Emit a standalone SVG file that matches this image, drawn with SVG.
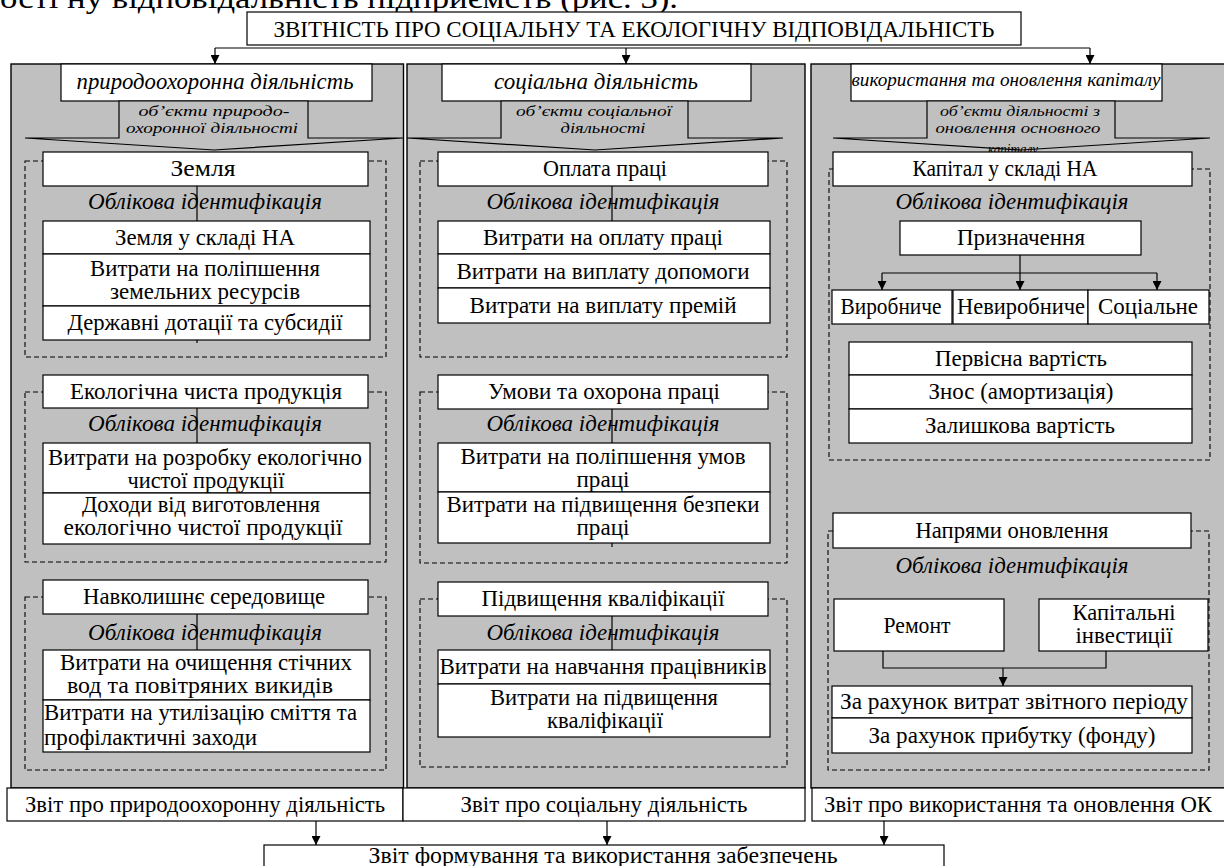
<svg xmlns="http://www.w3.org/2000/svg" width="1224" height="866" viewBox="0 0 1224 866" font-family="'Liberation Serif','DejaVu Serif',serif">
<defs>
<marker id="ah" viewBox="0 0 10 10" refX="10" refY="5" markerWidth="9" markerHeight="9" markerUnits="userSpaceOnUse" orient="auto"><path d="M0,0 L10,5 L0,10 z" fill="#000"/></marker>
<style>
.col{fill:#c0c0c0;stroke:#000;stroke-width:1.4}
.box{fill:#fff;stroke:#000;stroke-width:1.2}
.tab{fill:#c0c0c0;stroke:#000;stroke-width:1.2}
.dash{fill:none;stroke:#000;stroke-width:1.1;stroke-dasharray:5 3}
.ln{fill:none;stroke:#000;stroke-width:1.2}
.ar{fill:none;stroke:#000;stroke-width:1.2;marker-end:url(#ah)}
text{font-family:'Liberation Serif','DejaVu Serif',serif;font-size:23px;fill:#000;text-anchor:middle}
.i{font-style:italic}
.s{font-size:15.5px}
.h{font-size:19px}
.l{text-anchor:start}
</style>
</defs>
<rect width="1224" height="866" fill="#fff"/>
<text class="l" x="0" y="8" style="font-size:29px" textLength="678" lengthAdjust="spacingAndGlyphs">ості ну відповідальність підприємств (рис. 3).</text>

<g id="title">
<rect class="box" x="247" y="12" width="774" height="33"/>
<text x="634" y="37" textLength="721" lengthAdjust="spacingAndGlyphs">ЗВІТНІСТЬ ПРО СОЦІАЛЬНУ ТА ЕКОЛОГІЧНУ ВІДПОВІДАЛЬНІСТЬ</text>
</g>

<g id="columns">
<rect class="col" x="11" y="64" width="392.5" height="724"/>
<rect class="col" x="407" y="64" width="398" height="724"/>
<rect class="col" x="811" y="64" width="420" height="724"/>
</g>

<g id="hdr-left">
<rect class="box" x="61" y="64" width="311" height="37"/>
<text class="i" x="215" y="89" textLength="277" lengthAdjust="spacingAndGlyphs">природоохоронна діяльність</text>
</g>
<g id="tab-left">
<polygon class="tab" points="119,101 308,101 308,138 403,138 214,150 25,138 119,138"/>
<text class="i s" x="214" y="116" textLength="151" lengthAdjust="spacingAndGlyphs">об’єкти природо-</text>
<text class="i s" x="212" y="133" textLength="172" lengthAdjust="spacingAndGlyphs">охоронної діяльності</text>
</g>

<g id="grp-zemlia">
<rect class="dash" x="25" y="161" width="361" height="196"/>
<line class="ln" x1="197" y1="186" x2="197" y2="343"/>
<rect class="box" x="43" y="152" width="325" height="34"/>
<text x="203" y="176" textLength="65" lengthAdjust="spacingAndGlyphs">Земля</text>
<text class="i" x="205" y="209" textLength="234" lengthAdjust="spacingAndGlyphs">Облікова ідентифікація</text>
<rect class="box" x="43" y="221" width="327" height="33"/>
<text x="205" y="245" textLength="180" lengthAdjust="spacingAndGlyphs">Земля у складі НА</text>
<rect class="box" x="43" y="254" width="327" height="52"/>
<text x="205" y="276" textLength="230" lengthAdjust="spacingAndGlyphs">Витрати на поліпшення</text>
<text x="205" y="299" textLength="190" lengthAdjust="spacingAndGlyphs">земельних ресурсів</text>
<rect class="box" x="43" y="306" width="327" height="34"/>
<text x="205" y="330" textLength="275" lengthAdjust="spacingAndGlyphs">Державні дотації та субсидії</text>
</g>

<g id="grp-eko">
<rect class="dash" x="25" y="392" width="361" height="170"/>
<line class="ln" x1="197" y1="408" x2="197" y2="443"/>
<rect class="box" x="43" y="375" width="325" height="33"/>
<text x="206" y="399" textLength="272" lengthAdjust="spacingAndGlyphs">Екологічна чиста продукція</text>
<text class="i" x="205" y="431" textLength="234" lengthAdjust="spacingAndGlyphs">Облікова ідентифікація</text>
<rect class="box" x="43" y="443" width="327" height="50"/>
<text x="205" y="465" textLength="314" lengthAdjust="spacingAndGlyphs">Витрати на розробку екологічно</text>
<text x="206" y="488" textLength="157" lengthAdjust="spacingAndGlyphs">чистої продукції</text>
<rect class="box" x="43" y="493" width="327" height="51"/>
<text x="201" y="512" textLength="238" lengthAdjust="spacingAndGlyphs">Доходи від виготовлення</text>
<text x="203" y="535" textLength="279" lengthAdjust="spacingAndGlyphs">екологічно чистої продукції</text>
</g>

<g id="grp-navk">
<rect class="dash" x="25" y="597" width="361" height="173"/>
<line class="ln" x1="197" y1="614" x2="197" y2="650"/>
<rect class="box" x="43" y="580" width="325" height="34"/>
<text x="204" y="604" textLength="242" lengthAdjust="spacingAndGlyphs">Навколишнє середовище</text>
<text class="i" x="205" y="640" textLength="234" lengthAdjust="spacingAndGlyphs">Облікова ідентифікація</text>
<rect class="box" x="43" y="650" width="327" height="50"/>
<text x="206" y="670" textLength="292" lengthAdjust="spacingAndGlyphs">Витрати на очищення стічних</text>
<text x="200" y="693" textLength="266" lengthAdjust="spacingAndGlyphs">вод та повітряних викидів</text>
<rect class="box" x="43" y="700" width="327" height="52"/>
<text class="l" x="44" y="720" textLength="313" lengthAdjust="spacingAndGlyphs">Витрати на утилізацію сміття та</text>
<text class="l" x="44" y="745" textLength="213" lengthAdjust="spacingAndGlyphs">профілактичні заходи</text>
</g>

<g id="hdr-mid">
<rect class="box" x="442" y="64" width="309" height="37"/>
<text class="i" x="596" y="89" textLength="204" lengthAdjust="spacingAndGlyphs">соціальна діяльність</text>
</g>
<g id="tab-mid">
<polygon class="tab" points="501,101 688,101 688,138 783,138 595,150 407,138 501,138"/>
<text class="i s" x="594" y="116" textLength="156" lengthAdjust="spacingAndGlyphs">об’єкти соціальної</text>
<text class="i s" x="603" y="133" textLength="85" lengthAdjust="spacingAndGlyphs">діяльності</text>
</g>

<g id="grp-oplata">
<rect class="dash" x="420" y="161" width="367" height="196"/>
<line class="ln" x1="612" y1="186" x2="612" y2="221"/>
<rect class="box" x="438" y="152" width="330" height="34"/>
<text x="605" y="176" textLength="124" lengthAdjust="spacingAndGlyphs">Оплата праці</text>
<text class="i" x="603" y="209" textLength="233" lengthAdjust="spacingAndGlyphs">Облікова ідентифікація</text>
<rect class="box" x="438" y="221" width="332" height="33"/>
<text x="603" y="245" textLength="240" lengthAdjust="spacingAndGlyphs">Витрати на оплату праці</text>
<rect class="box" x="438" y="254" width="332" height="34"/>
<text x="603" y="279" textLength="293" lengthAdjust="spacingAndGlyphs">Витрати на виплату допомоги</text>
<rect class="box" x="438" y="288" width="332" height="35"/>
<text x="603" y="313" textLength="267" lengthAdjust="spacingAndGlyphs">Витрати на виплату премій</text>
</g>

<g id="grp-umovy">
<rect class="dash" x="420" y="392" width="367" height="171"/>
<line class="ln" x1="612" y1="409" x2="612" y2="547"/>
<rect class="box" x="438" y="375" width="330" height="34"/>
<text x="604" y="399" textLength="232" lengthAdjust="spacingAndGlyphs">Умови та охорона праці</text>
<text class="i" x="603" y="431" textLength="233" lengthAdjust="spacingAndGlyphs">Облікова ідентифікація</text>
<rect class="box" x="438" y="443" width="332" height="49"/>
<text x="603" y="464" textLength="285" lengthAdjust="spacingAndGlyphs">Витрати на поліпшення умов</text>
<text x="603" y="487" textLength="53" lengthAdjust="spacingAndGlyphs">праці</text>
<rect class="box" x="438" y="492" width="332" height="51"/>
<text x="603" y="512" textLength="313" lengthAdjust="spacingAndGlyphs">Витрати на підвищення безпеки</text>
<text x="603" y="535" textLength="53" lengthAdjust="spacingAndGlyphs">праці</text>
</g>

<g id="grp-kvalif">
<rect class="dash" x="420" y="599" width="367" height="168"/>
<line class="ln" x1="612" y1="616" x2="612" y2="650"/>
<rect class="box" x="438" y="582" width="330" height="34"/>
<text x="603" y="606" textLength="243" lengthAdjust="spacingAndGlyphs">Підвищення кваліфікації</text>
<text class="i" x="603" y="640" textLength="233" lengthAdjust="spacingAndGlyphs">Облікова ідентифікація</text>
<rect class="box" x="438" y="650" width="332" height="34"/>
<text x="603" y="674" textLength="327" lengthAdjust="spacingAndGlyphs">Витрати на навчання працівників</text>
<rect class="box" x="438" y="684" width="332" height="53"/>
<text x="604" y="705" textLength="228" lengthAdjust="spacingAndGlyphs">Витрати на підвищення</text>
<text x="605" y="728" textLength="116" lengthAdjust="spacingAndGlyphs">кваліфікації</text>
</g>

<g id="hdr-right">
<rect class="box" x="851" y="64" width="311" height="37"/>
<text class="i h" x="1006" y="86" textLength="309" lengthAdjust="spacingAndGlyphs">використання та оновлення капіталу</text>
</g>
<g id="tab-right">
<polygon class="tab" points="927,101 1115,101 1115,138 1210,138 1021,150 833,138 927,138"/>
<text class="i s" x="1020" y="116" textLength="160" lengthAdjust="spacingAndGlyphs">об’єкти діяльності з</text>
<text class="i s" x="1018" y="133" textLength="165" lengthAdjust="spacingAndGlyphs">оновлення основного</text>
<text class="i s" x="1013" y="154" textLength="50" lengthAdjust="spacingAndGlyphs">капіталу</text>
</g>

<g id="grp-kapital">
<rect class="dash" x="829" y="169" width="381" height="291"/>
<rect class="box" x="833" y="152" width="359" height="34"/>
<text x="1005" y="176" textLength="185" lengthAdjust="spacingAndGlyphs">Капітал у складі НА</text>
<text class="i" x="1012" y="209" textLength="233" lengthAdjust="spacingAndGlyphs">Облікова ідентифікація</text>
<rect class="box" x="900" y="221" width="241" height="34"/>
<text x="1021" y="245" textLength="128" lengthAdjust="spacingAndGlyphs">Призначення</text>
<rect class="box" x="832" y="290" width="120" height="34"/>
<text x="891" y="314" textLength="101" lengthAdjust="spacingAndGlyphs">Виробниче</text>
<rect class="box" x="953" y="290" width="135" height="34"/>
<text x="1021" y="314" textLength="128" lengthAdjust="spacingAndGlyphs">Невиробниче</text>
<rect class="box" x="1088" y="290" width="121" height="34"/>
<text x="1148" y="314" textLength="100" lengthAdjust="spacingAndGlyphs">Соціальне</text>
<rect class="box" x="849" y="342" width="343" height="33"/>
<text x="1021" y="366" textLength="172" lengthAdjust="spacingAndGlyphs">Первісна вартість</text>
<rect class="box" x="849" y="375" width="343" height="34"/>
<text x="1021" y="399" textLength="185" lengthAdjust="spacingAndGlyphs">Знос (амортизація)</text>
<rect class="box" x="849" y="409" width="343" height="34"/>
<text x="1020" y="433" textLength="190" lengthAdjust="spacingAndGlyphs">Залишкова вартість</text>
</g>

<g id="grp-napriamy">
<rect class="dash" x="828" y="531" width="381" height="239"/>
<rect class="box" x="833" y="513" width="358" height="35"/>
<text x="1012" y="538" textLength="193" lengthAdjust="spacingAndGlyphs">Напрями оновлення</text>
<text class="i" x="1012" y="573" textLength="233" lengthAdjust="spacingAndGlyphs">Облікова ідентифікація</text>
<rect class="box" x="834" y="599" width="170" height="52"/>
<text x="917" y="633" textLength="67" lengthAdjust="spacingAndGlyphs">Ремонт</text>
<rect class="box" x="1039" y="599" width="169" height="52"/>
<text x="1124" y="620" textLength="103" lengthAdjust="spacingAndGlyphs">Капітальні</text>
<text x="1124" y="643" textLength="97" lengthAdjust="spacingAndGlyphs">інвестиції</text>
<rect class="box" x="832" y="686" width="360" height="32"/>
<text x="1014" y="709" textLength="348" lengthAdjust="spacingAndGlyphs">За рахунок витрат звітного періоду</text>
<rect class="box" x="832" y="718" width="360" height="35"/>
<text x="1012" y="743" textLength="287" lengthAdjust="spacingAndGlyphs">За рахунок прибутку (фонду)</text>
</g>

<g id="rep-left">
<rect class="box" x="7" y="788" width="396" height="33"/>
<text x="205" y="812" textLength="360" lengthAdjust="spacingAndGlyphs">Звіт про природоохоронну діяльність</text>
</g>
<g id="rep-mid">
<rect class="box" x="403" y="788" width="402" height="33"/>
<text x="604" y="812" textLength="287" lengthAdjust="spacingAndGlyphs">Звіт про соціальну діяльність</text>
</g>
<g id="rep-right">
<rect class="box" x="812" y="788" width="420" height="33"/>
<text x="1018" y="812" textLength="388" lengthAdjust="spacingAndGlyphs">Звіт про використання та оновлення ОК</text>
</g>
<g id="final">
<rect class="box" x="264" y="845" width="680" height="30"/>
<text x="603" y="863" textLength="469" lengthAdjust="spacingAndGlyphs">Звіт формування та використання забезпечень</text>
</g>

<g id="connectors">
<line class="ln" x1="215" y1="48" x2="1090" y2="48"/>
<line class="ar" x1="215" y1="48" x2="215" y2="64"/>
<line class="ar" x1="626" y1="48" x2="626" y2="64"/>
<line class="ar" x1="1090" y1="48" x2="1090" y2="64"/>
<line class="ln" x1="1020" y1="255" x2="1020" y2="273"/>
<line class="ln" x1="882" y1="273" x2="1157" y2="273"/>
<line class="ar" x1="882" y1="273" x2="882" y2="290"/>
<line class="ar" x1="1020" y1="273" x2="1020" y2="290"/>
<line class="ar" x1="1157" y1="273" x2="1157" y2="290"/>
<polyline class="ln" points="883,651 883,668 1106,668 1106,651"/>
<line class="ar" x1="1003" y1="668" x2="1003" y2="686"/>
<line class="ar" x1="316" y1="821" x2="316" y2="845"/>
<line class="ar" x1="607" y1="821" x2="607" y2="845"/>
<line class="ar" x1="884" y1="821" x2="884" y2="845"/>
</g>
</svg>
